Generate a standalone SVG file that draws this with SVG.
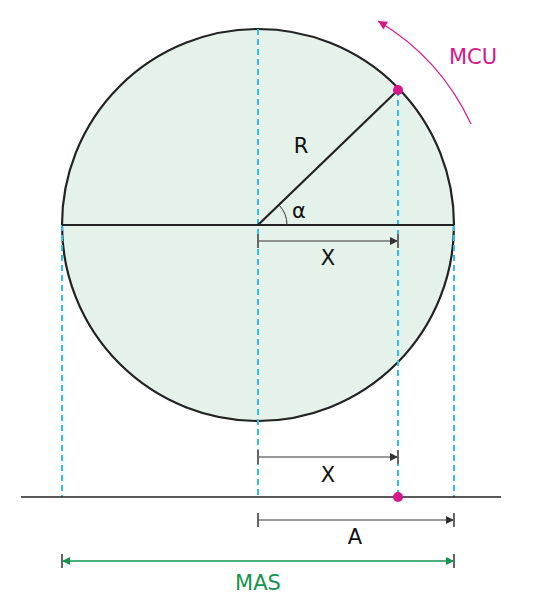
<svg xmlns="http://www.w3.org/2000/svg" width="551" height="600" viewBox="0 0 551 600">
<defs>
<style>
.dash{stroke:#33bbee;stroke-width:2;stroke-dasharray:6 4;fill:none}
.dim{stroke:#333;stroke-width:1;fill:none}
.tick{stroke:#666;stroke-width:2}
.lbl{font-family:"DejaVu Sans",sans-serif;font-size:21px;fill:#111;text-anchor:middle}
</style>
<marker id="ah" viewBox="0 0 10 10" refX="10" refY="5" markerWidth="10" markerHeight="8" markerUnits="userSpaceOnUse" orient="auto-start-reverse"><path d="M0,0 L10,5 L0,10 z" fill="#333"/></marker>
<marker id="ahg" viewBox="0 0 10 10" refX="10" refY="5" markerWidth="10" markerHeight="8" markerUnits="userSpaceOnUse" orient="auto-start-reverse"><path d="M0,0 L10,5 L0,10 z" fill="#15944f"/></marker>
<marker id="ahm" viewBox="0 0 10 10" refX="10" refY="5" markerWidth="11" markerHeight="9" markerUnits="userSpaceOnUse" orient="auto"><path d="M0,0 L10,5 L0,10 z" fill="#d6168b"/></marker>
</defs>
<g id="circle">
<circle cx="258" cy="225" r="196" fill="#e4f2ea" stroke="#222" stroke-width="2.2"/>
</g>
<g id="connectors">
<line class="dash" x1="62" y1="225" x2="62" y2="497"/>
<line class="dash" x1="258" y1="29" x2="258" y2="497"/>
<line class="dash" x1="398" y1="90" x2="398" y2="497"/>
<line class="dash" x1="454" y1="225" x2="454" y2="497"/>
<line x1="62" y1="225" x2="454" y2="225" stroke="#222" stroke-width="2.2"/>
<line x1="258" y1="225" x2="398" y2="90" stroke="#222" stroke-width="2.2"/>
<path d="M287,225 A29,29 0 0 0 278.9,204.9" fill="none" stroke="#333" stroke-width="1"/>
<line x1="21" y1="497" x2="501" y2="497" stroke="#222" stroke-width="1.5"/>
<line class="dim" x1="258" y1="241" x2="398" y2="241" marker-end="url(#ah)"/>
<line class="tick" x1="258" y1="234" x2="258" y2="248"/>
<line class="tick" x1="398" y1="234" x2="398" y2="248"/>
<line class="dim" x1="258" y1="457" x2="398" y2="457" marker-end="url(#ah)"/>
<line class="tick" x1="258" y1="450" x2="258" y2="464"/>
<line class="tick" x1="398" y1="450" x2="398" y2="464"/>
<line class="dim" x1="258" y1="520" x2="454" y2="520" marker-end="url(#ah)"/>
<line class="tick" x1="258" y1="513" x2="258" y2="527"/>
<line class="tick" x1="454" y1="513" x2="454" y2="527"/>
<line x1="62" y1="561" x2="454" y2="561" stroke="#15944f" stroke-width="1.5" marker-start="url(#ahg)" marker-end="url(#ahg)"/>
<line class="tick" x1="62" y1="554" x2="62" y2="568"/>
<line class="tick" x1="454" y1="554" x2="454" y2="568"/>
<path d="M471,124 A236,236 0 0 0 378,21" fill="none" stroke="#d6168b" stroke-width="1.2" marker-end="url(#ahm)"/>
</g>
<g id="points">
<circle cx="398" cy="90" r="5" fill="#d6168b"/>
<circle cx="398" cy="497" r="5" fill="#d6168b"/>
</g>
<g id="labels">
<text class="lbl" x="301" y="153">R</text>
<text class="lbl" x="299" y="218" style="font-size:21px">α</text>
<text class="lbl" x="328" y="265">X</text>
<text class="lbl" x="328" y="482">X</text>
<text class="lbl" x="355" y="544">A</text>
<text class="lbl" x="258" y="590" style="fill:#15944f">MAS</text>
<text class="lbl" x="473" y="64" style="fill:#d6168b">MCU</text>
</g>
</svg>
